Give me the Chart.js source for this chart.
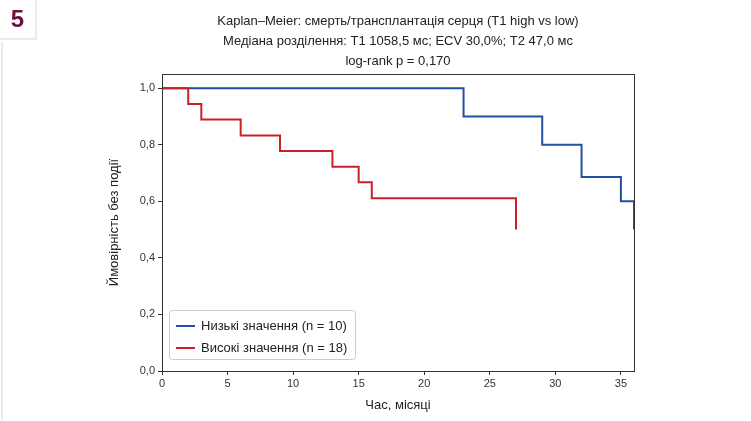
<!DOCTYPE html>
<html lang="uk">
<head>
<meta charset="utf-8">
<title>Kaplan–Meier</title>
<script src="https://cdn.jsdelivr.net/npm/chart.js@4.4.1/dist/chart.umd.min.js"></script>
<style>
    html, body { margin: 0; padding: 0; background: #fff; }
    #wrap { position: relative; width: 751px; height: 421px; }
    #badge {
        position: absolute; left: 0; top: 0; width: 35px; height: 38px;
        border-right: 2px solid #ebebeb; border-bottom: 2px solid #ebebeb;
        font: bold 24px "Liberation Sans", Arial, sans-serif; color: #6d0f40;
        text-align: center; line-height: 38px;
    }
    #side { position: absolute; left: 1px; top: 42px; width: 2px; height: 379px; background: #ebebeb; }
    canvas { position: absolute; left: 0; top: 0; }
</style>
</head>
<body>
<div id="wrap">
    <canvas id="kmChart" width="751" height="421"></canvas>
    <div id="badge">5</div>
    <div id="side"></div>
</div>
<script>
// Криві виживання (Kaplan–Meier), час у місяцях
var lowTimes = [0, 23, 29, 32, 35, 36];
var lowSurv = [1.0, 0.9, 0.8, 0.686, 0.6, 0.5];
var highTimes = [0, 2, 3, 6, 9, 13, 15, 16, 27];
var highSurv = [1.0, 0.944, 0.889, 0.833, 0.778, 0.722, 0.667, 0.611, 0.5];

var seriesLabels = ['Низькі значення (n = 10)', 'Високі значення (n = 18)'];
var seriesColors = ['#21509c', '#cc2029'];

var xTicks = [0, 5, 10, 15, 20, 25, 30, 35];
var yTicks = [0, 0.2, 0.4, 0.6, 0.8, 1.0];

var titleLines = [
    'Kaplan–Meier: смерть/трансплантація серця (T1 high vs low)',
    'Медіана розділення: T1 1058,5 мс; ECV 30,0%; T2 47,0 мс',
    'log-rank p = 0,170'
];

var FONT = '"Liberation Sans", Arial, sans-serif';
var INK = '#333333';

function toPoints(xs, ys) {
    var pts = [];
    for (var i = 0; i < xs.length; i++) pts.push({ x: xs[i], y: ys[i] });
    return pts;
}

function comma(v, digits) {
    return Number(v).toFixed(digits).replace('.', ',');
}

// рамка навколо області графіка + заголовок + легенда всередині
var framePlugin = {
    id: 'frame',
    afterDraw: function(chart) {
        var ctx = chart.ctx;
        var a = chart.chartArea;
        ctx.save();
        ctx.strokeStyle = INK;
        ctx.lineWidth = 1;
        ctx.strokeRect(Math.round(a.left) + 0.5, Math.round(a.top) + 0.5,
            Math.round(a.right - a.left), Math.round(a.bottom - a.top));

        // заголовок
        ctx.fillStyle = '#222';
        ctx.font = '13px ' + FONT;
        ctx.textAlign = 'center';
        ctx.textBaseline = 'middle';
        var cx = (a.left + a.right) / 2;
        for (var i = 0; i < titleLines.length; i++) {
            ctx.fillText(titleLines[i], cx, 21 + i * 20);
        }

        // легенда
        var lx = a.left + 7, ly = 310, lw = 186, lh = 49;
        ctx.fillStyle = 'rgba(255,255,255,0.85)';
        ctx.strokeStyle = '#cccccc';
        ctx.beginPath();
        ctx.roundRect(lx + 0.5, ly + 0.5, lw, lh, 3);
        ctx.fill();
        ctx.stroke();
        ctx.textAlign = 'left';
        ctx.font = '13px ' + FONT;
        for (var j = 0; j < seriesLabels.length; j++) {
            var yy = ly + 16 + j * 22;
            ctx.strokeStyle = seriesColors[j];
            ctx.lineWidth = 2;
            ctx.beginPath();
            ctx.moveTo(lx + 7, yy);
            ctx.lineTo(lx + 26, yy);
            ctx.stroke();
            ctx.fillStyle = '#222';
            ctx.fillText(seriesLabels[j], lx + 32, yy);
        }
        ctx.restore();
    }
};

var chart = new Chart(document.getElementById('kmChart'), {
    type: 'line',
    data: {
        datasets: [{
            label: seriesLabels[0],
            data: toPoints(lowTimes, lowSurv),
            borderColor: seriesColors[0],
            borderWidth: 2,
            stepped: 'before',
            pointRadius: 0,
            fill: false,
            clip: 4,
            order: 1
        }, {
            label: seriesLabels[1],
            data: toPoints(highTimes, highSurv),
            borderColor: seriesColors[1],
            borderWidth: 2,
            stepped: 'before',
            pointRadius: 0,
            fill: false,
            clip: 4,
            order: 0
        }]
    },
    options: {
        responsive: false,
        animation: false,
        events: [],
        layout: { padding: { left: 107, right: 117, top: 74, bottom: 0 } },
        plugins: {
            legend: { display: false },
            title: { display: false },
            tooltip: { enabled: false }
        },
        scales: {
            x: {
                type: 'linear',
                min: 0,
                max: 36,
                afterFit: function(scale) { scale.height = 50; },
                afterBuildTicks: function(scale) {
                    scale.ticks = xTicks.map(function(v) { return { value: v }; });
                },
                border: { display: true, color: INK, width: 1 },
                grid: { drawOnChartArea: false, drawTicks: true, tickLength: 4, color: INK },
                ticks: {
                    color: INK,
                    font: { family: FONT, size: 11 },
                    padding: 2,
                    maxRotation: 0,
                    callback: function(v) { return String(v); }
                },
                title: {
                    display: true,
                    text: 'Час, місяці',
                    color: '#222',
                    font: { family: FONT, size: 13 },
                    padding: { top: 4, bottom: 8 }
                }
            },
            y: {
                min: 0,
                max: 1.05,
                afterFit: function(scale) { scale.width = 55; },
                afterBuildTicks: function(scale) {
                    scale.ticks = yTicks.map(function(v) { return { value: v }; });
                },
                border: { display: true, color: INK, width: 1 },
                grid: { drawOnChartArea: false, drawTicks: true, tickLength: 4, color: INK },
                ticks: {
                    color: INK,
                    font: { family: FONT, size: 11 },
                    padding: 3,
                    callback: function(v) { return comma(v, 1); }
                },
                title: {
                    display: true,
                    text: 'Ймовірність без події',
                    color: '#222',
                    font: { family: FONT, size: 13 },
                    padding: { top: 0, bottom: 8 }
                }
            }
        }
    },
    plugins: [framePlugin]
});
</script>
</body>
</html>
